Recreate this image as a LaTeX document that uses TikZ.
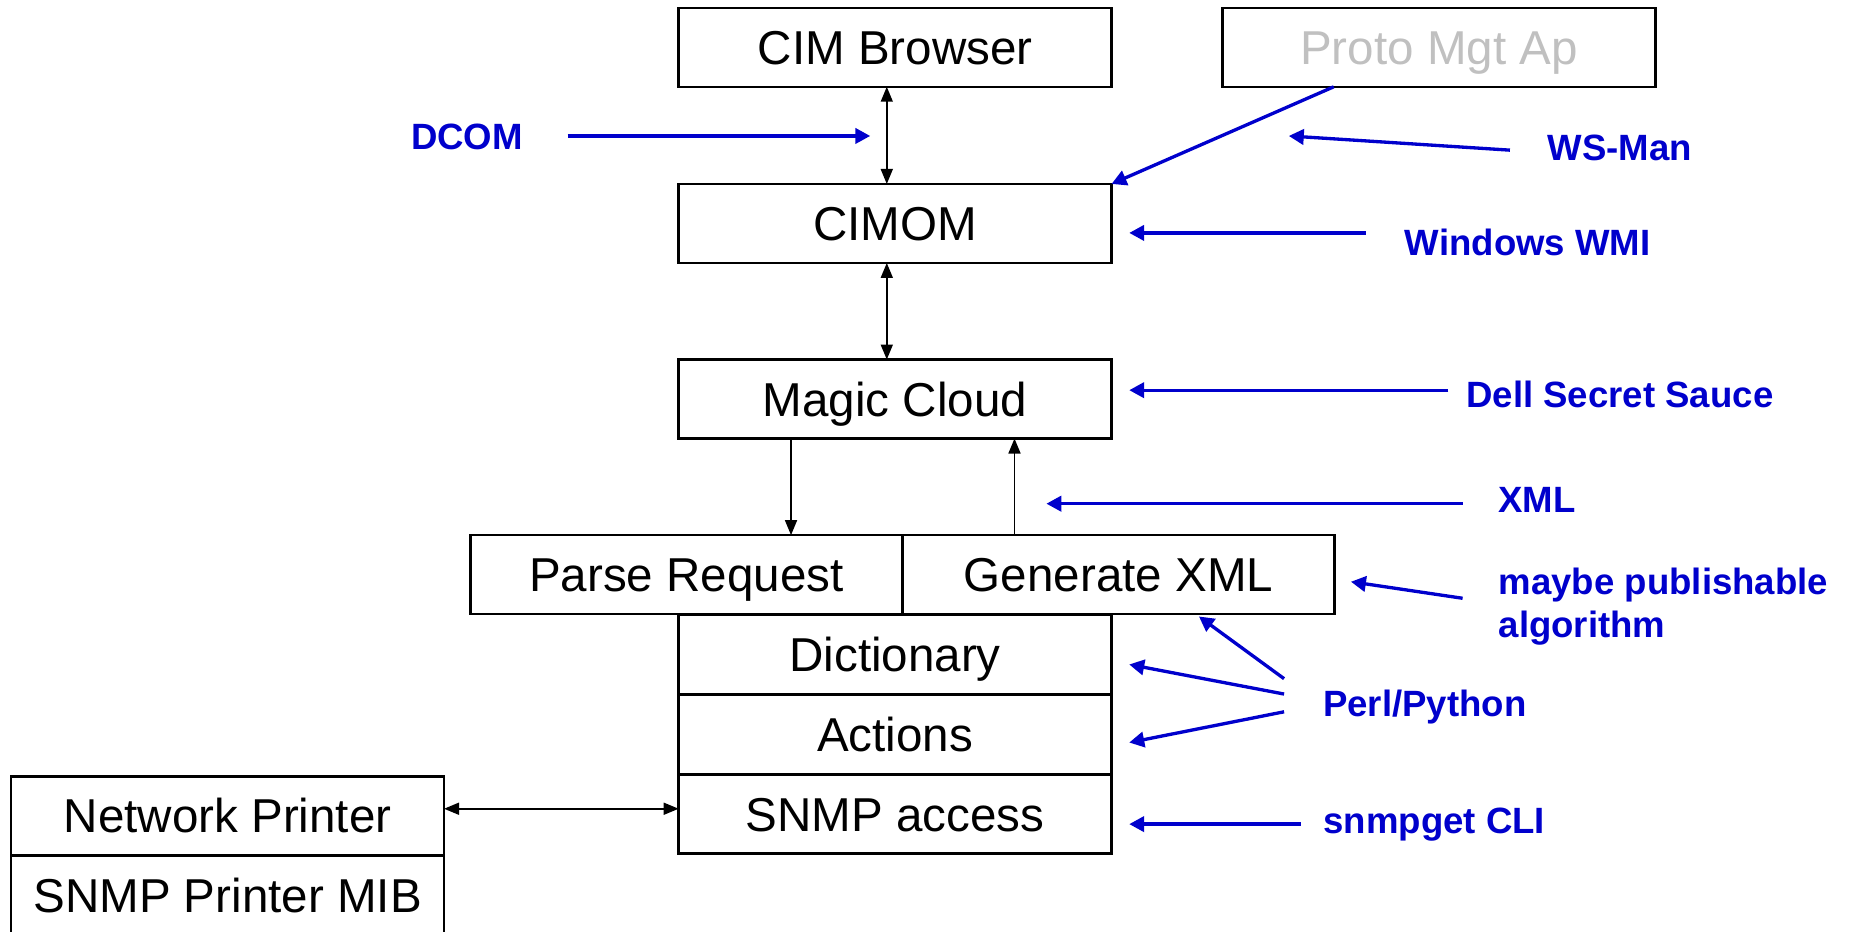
\documentclass[tikz,border=0pt]{standalone}
\usepackage{fontspec}
\setmainfont{Liberation Sans}
\usetikzlibrary{arrows.meta,calc}
\definecolor{noteblue}{RGB}{0,0,204}
\definecolor{fadegray}{RGB}{192,192,192}
\begin{document}
\begin{tikzpicture}[x=0.0125cm,y=-0.0125cm,
		box/.style={draw,line width=0.7pt,minimum width=4.575cm,minimum height=0.835cm,inner sep=0pt,outer sep=0pt,text height=10.25pt,text depth=0pt,font=\fontsize{14.3}{17}\selectfont},
		halfbox/.style={box,minimum width=4.5625cm},
		note/.style={text=noteblue,font=\fontsize{11}{12.8}\bfseries\selectfont,inner sep=0pt},
		link/.style={line width=0.5pt,>={Triangle[length=4.5pt,width=3.6pt]}},
		feed/.style={draw=noteblue,line width=1pt,-{Triangle[length=4.5pt,width=4.6pt]}}]
		\useasboundingbox (0,0) rectangle (1568,788);
		\clip (0,0) rectangle (1568,788);
		% stack of boxes
		\node[box] (cim) at (757,40) {CIM Browser};
		\node[box,text=fadegray] (proto) at (1217,40) {Proto Mgt Ap};
		\node[box] (cimom) at (757,189) {CIMOM};
		\node[box] (magic) at (757,337.5) {Magic Cloud};
		\node[halfbox] (parse) at (580.5,486) {Parse Request};
		\node[halfbox] (gen) at (946,486) {Generate XML};
		\node[box] (dict) at (757,553.5) {Dictionary};
		\node[box] (actions) at (757,621) {Actions};
		\node[box] (snmp) at (757,688.5) {SNMP access};
		\node[box] (netp) at (192.5,690) {Network Printer};
		\node[box] (mib) at (192.5,757) {SNMP Printer MIB};
		% black connectors
		\coordinate (upL) at ($(cim.south)+(-7,0)$);
		\coordinate (midL) at ($(cimom.south)+(-7,0)$);
		\coordinate (reqL) at ($(magic.south)+(-88,0)$);
		\coordinate (ansL) at ($(magic.south)+(101,0)$);
		\coordinate (prnL) at ($(netp.east)+(0,-6)$);
		\draw[link,<->] (upL) -- (upL |- cimom.north);
		\draw[link,<->] (midL) -- (midL |- magic.north);
		\draw[link,->] (reqL) -- (reqL |- parse.north);
		\draw[link,->] (ansL |- gen.north) -- (ansL);
		\draw[link,<->] (prnL) -- (prnL -| snmp.west);
		% blue notes
		\node[note] (dcom) at (395,116) {DCOM};
		\node[note] (wsman) at (1370,125) {WS-Man};
		\node[note] (wmi) at (1292,205) {Windows WMI};
		\node[note] (dell) at (1370,334) {Dell Secret Sauce};
		\node[note] (xml) at (1300,423) {XML};
		\node[note,anchor=west,align=left] (publish) at (1267,513) {maybe publishable\\algorithm};
		\node[note] (perl) at (1205,598) {Perl/Python};
		\node[note] (snmpget) at (1213,697) {snmpget CLI};
		\coordinate (dcomT) at (480,115);
		\coordinate (dcomH) at (736,115);
		\coordinate (wsmanT) at (1277,127);
		\coordinate (wsmanH) at (1090,115);
		\coordinate (wmiT) at (1155,197);
		\coordinate (dellT) at (1225,330);
		\coordinate (xmlT) at (1237,426);
		\coordinate (xmlH) at (885,426);
		\coordinate (publishT) at (1237,506);
		\coordinate (perlA) at (1086,574);
		\coordinate (perlB) at (1086,587);
		\coordinate (perlC) at (1086,602);
		\coordinate (snmpgetT) at (1100,697);
		\draw[feed] (dcomT) -- (dcomH);
		\draw[feed] ($(proto.south)+(-89,0)$) -- (cimom.north east);
		\draw[feed] (wsmanT) -- (wsmanH);
		\draw[feed] (wmiT) -- ($(cimom.east)+(15,8)$);
		\draw[feed] (dellT) -- ($(magic.east)+(15,-7.5)$);
		\draw[feed] (xmlT) -- (xmlH);
		\draw[feed] (publishT) -- ($(gen.east)+(14,6)$);
		\draw[feed] (perlA) -- ($(gen.south)+(68,2)$);
		\draw[feed] (perlB) -- ($(dict.east)+(15,8.5)$);
		\draw[feed] (perlC) -- ($(actions.east)+(15,7)$);
		\draw[feed] (snmpgetT) -- ($(snmp.east)+(15,8.5)$);
	\end{tikzpicture}
\end{document}
